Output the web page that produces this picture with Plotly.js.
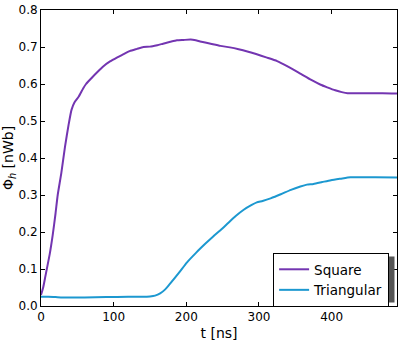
<!DOCTYPE html>
<html>
<head>
<meta charset="utf-8">
<script src="https://cdn.plot.ly/plotly-3.0.1.min.js"></script>
<style>body{margin:0;background:#fff}#fluxPlot{width:409px;height:341px}</style>
</head>
<body>
<div id="fluxPlot"></div>
<script>
// time axis [ns] and flux [nWb]
var tSquare = [0, 3, 6, 8, 12, 16, 20, 23, 28, 33, 38, 42, 46, 52, 58, 62, 70, 78, 86, 95, 105, 113, 122, 132, 141, 150, 160, 168, 178, 187, 196, 206, 213, 219, 226, 235, 247, 260, 272, 284, 296, 310, 325, 340, 357, 372, 385, 394, 405, 414, 422, 435, 450, 470, 490];
var phiSquare = [0.03, 0.05, 0.08, 0.1, 0.14, 0.19, 0.25, 0.3, 0.36, 0.43, 0.49, 0.53, 0.55, 0.566, 0.588, 0.6, 0.617, 0.633, 0.648, 0.661, 0.672, 0.68, 0.689, 0.695, 0.7, 0.701, 0.705, 0.709, 0.714, 0.718, 0.719, 0.72, 0.718, 0.715, 0.712, 0.708, 0.703, 0.699, 0.694, 0.688, 0.681, 0.672, 0.662, 0.647, 0.628, 0.611, 0.598, 0.591, 0.583, 0.578, 0.575, 0.575, 0.575, 0.575, 0.574];

var tTri = [0, 10, 20, 30, 60, 90, 120, 140, 150, 157, 164, 171, 178, 190, 201, 213, 226, 237, 247, 258, 268, 279, 290, 297, 305, 316, 330, 344, 357, 366, 375, 387, 399, 412, 426, 440, 460, 490];
var phiTri = [0.025, 0.025, 0.024, 0.023, 0.023, 0.024, 0.025, 0.025, 0.026, 0.028, 0.034, 0.045, 0.061, 0.09, 0.118, 0.143, 0.168, 0.188, 0.205, 0.225, 0.243, 0.26, 0.273, 0.28, 0.284, 0.291, 0.302, 0.314, 0.323, 0.328, 0.33, 0.335, 0.34, 0.344, 0.348, 0.348, 0.348, 0.347];

var traceSquare = {
    type: 'scatter', mode: 'lines', name: 'Square',
    x: tSquare, y: phiSquare,
    line: { color: '#7335b1', width: 2, shape: 'spline', smoothing: 0.6 }
};
var traceTri = {
    type: 'scatter', mode: 'lines', name: 'Triangular',
    x: tTri, y: phiTri,
    line: { color: '#1c98d0', width: 2, shape: 'spline', smoothing: 0.6 }
};

var layout = {
    width: 409, height: 341,
    margin: { l: 41, r: 12, t: 10, b: 35 },
    paper_bgcolor: '#fff', plot_bgcolor: '#fff',
    font: { family: 'DejaVu Sans', size: 12, color: '#000' },
    showlegend: true,
    legend: {
        x: 0.652, y: 0.179, xanchor: 'left', yanchor: 'top',
        bgcolor: '#fff', bordercolor: '#000', borderwidth: 1,
        font: { family: 'DejaVu Sans', size: 13.5, color: '#000' },
        tracegroupgap: 0
    },
    xaxis: {
        range: [0, 490], tickvals: [0, 100, 200, 300, 400],
        ticks: 'inside', ticklen: 4, tickcolor: '#000', mirror: 'ticks',
        showline: true, linecolor: '#000', linewidth: 1, showgrid: false, zeroline: false,
        title: { text: 't [ns]', font: { family: 'DejaVu Sans', size: 14 }, standoff: 4 }
    },
    yaxis: {
        range: [0, 0.8], tickvals: [0, 0.1, 0.2, 0.3, 0.4, 0.5, 0.6, 0.7, 0.8], tickformat: '.1f',
        ticks: 'inside', ticklen: 4, tickcolor: '#000', mirror: 'ticks',
        showline: true, linecolor: '#000', linewidth: 1, showgrid: false, zeroline: false,
        title: { text: 'Φ<sub><i>h</i></sub> [nWb]', font: { family: 'DejaVu Sans', size: 14 }, standoff: 5 }
    },
    shapes: [
        // legend drop shadow
        { type: 'rect', xref: 'paper', yref: 'paper', x0: 0.665, x1: 0.993, y0: 0.012, y1: 0.167,
          fillcolor: '#555', line: { width: 0 }, layer: 'above' }
    ]
};

Plotly.newPlot('fluxPlot', [traceSquare, traceTri], layout, { displayModeBar: false, staticPlot: true });
</script>
</body>
</html>
